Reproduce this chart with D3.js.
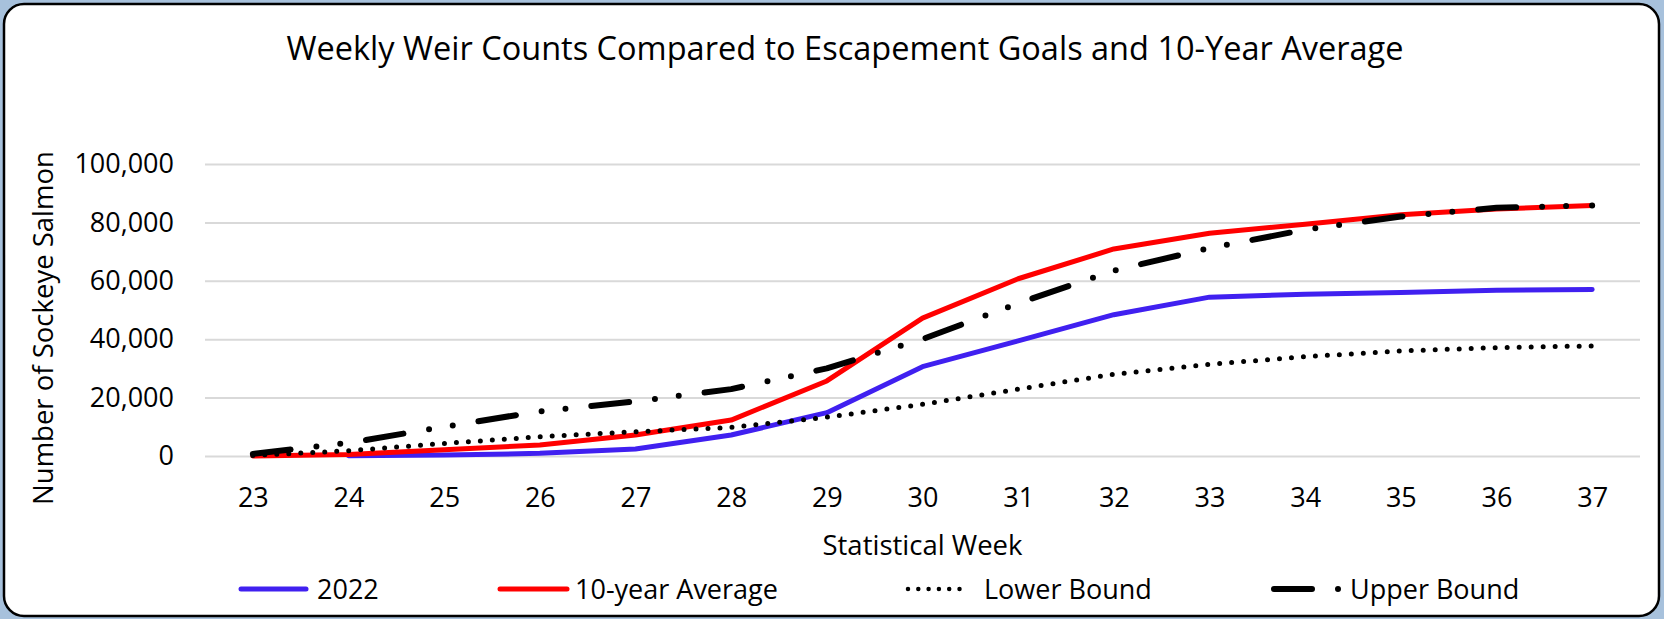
<!DOCTYPE html>
<html>
<head>
<meta charset="utf-8">
<script src="https://cdn.jsdelivr.net/npm/d3@7"></script>
<style>
  html, body { margin: 0; padding: 0; background: #a7c1dc; }
  svg { display: block; font-family: "Open Sans", sans-serif; }
</style>
</head>
<body>
<svg id="chart"></svg>
<script>
// chart data
const weeks = [23, 24, 25, 26, 27, 28, 29, 30, 31, 32, 33, 34, 35, 36, 37];
const run2022 = [null, 100, 300, 900, 2400, 7200, 14850, 30600, 39400, 48400, 54400, 55400, 56000, 56800, 57000];
const tenYearAvg = [0, 500, 2100, 3800, 7200, 12300, 25700, 47200, 60700, 70900, 76300, 79400, 82600, 84600, 85800];
const lowerBound = [200, 1800, 4300, 6600, 8300, 9800, 13300, 17700, 22900, 28000, 31400, 34000, 36000, 37100, 37700];
const upperBound = [700, 4500, 10000, 15300, 18700, 22900, 30000, 40000, 52300, 63500, 71200, 77500, 82000, 85000, 85800];
const yTicks = [0, 20000, 40000, 60000, 80000, 100000];
const seriesNames = ["2022", "10-year Average", "Lower Bound", "Upper Bound"];

const titleText = "Weekly Weir Counts Compared to Escapement Goals and 10-Year Average";
const xTitle = "Statistical Week";
const yTitle = "Number of Sockeye Salmon";

const W = 1664, H = 619;
const plot = { left: 205, right: 1640, top: 164, bottom: 456 };

const svg = d3.select("#chart").attr("width", W).attr("height", H);

// frame
svg.append("rect")
  .attr("x", 4).attr("y", 4)
  .attr("width", 1655).attr("height", 612)
  .attr("rx", 20).attr("ry", 20)
  .attr("fill", "#fff")
  .attr("stroke", "#000")
  .attr("stroke-width", 2.5);

let x = d3.scalePoint().domain(weeks).range([plot.left, plot.right]).padding(0.5);
let y = d3.scaleLinear().domain([0, 100000]).range([plot.bottom, plot.top]);

// y axis + gridlines
let yAxis = svg.append("g")
  .attr("transform", "translate(" + plot.left + ",0)")
  .call(d3.axisLeft(y).tickValues(yTicks).tickSize(-(plot.right - plot.left)).tickPadding(31)
    .tickFormat(d3.format(",")));
yAxis.select(".domain").remove();
yAxis.selectAll("line").attr("stroke", "#d9d9d9").attr("stroke-width", 2);
yAxis.selectAll("text").attr("font-size", 27).attr("fill", "#000").attr("font-family", "Open Sans");

// x axis
let xAxis = svg.append("g")
  .attr("transform", "translate(0," + plot.bottom + ")")
  .call(d3.axisBottom(x).tickSize(0).tickPadding(32));
xAxis.select(".domain").remove();
xAxis.selectAll("text").attr("font-size", 27).attr("fill", "#000").attr("font-family", "Open Sans");

// titles
svg.append("text")
  .attr("x", 845).attr("y", 60)
  .attr("text-anchor", "middle")
  .attr("font-size", 32.5)
  .text(titleText);

svg.append("text")
  .attr("x", (plot.left + plot.right) / 2).attr("y", 555)
  .attr("text-anchor", "middle")
  .attr("font-size", 27.5)
  .text(xTitle);

svg.append("text")
  .attr("transform", "translate(53,328) rotate(-90)")
  .attr("text-anchor", "middle")
  .attr("font-size", 27.5)
  .text(yTitle);

// series
const series = [
  { name: seriesNames[0], values: run2022, color: "#4020f0", width: 5, dash: null },
  { name: seriesNames[1], values: tenYearAvg, color: "#ff0000", width: 5, dash: null },
  { name: seriesNames[2], values: lowerBound, color: "#000", width: 5, dash: "0 12" },
  { name: seriesNames[3], values: upperBound, color: "#000", width: 6, dash: "38 26 0 24 0 26" }
];

let line = d3.line()
  .defined(d => d.v != null)
  .x(d => x(d.w))
  .y(d => y(d.v));

series.forEach(s => {
  svg.append("path")
    .datum(weeks.map((w, i) => ({ w: w, v: s.values[i] })))
    .attr("fill", "none")
    .attr("stroke", s.color)
    .attr("stroke-width", s.width)
    .attr("stroke-linejoin", "round")
    .attr("stroke-linecap", "round")
    .attr("stroke-dasharray", s.dash)
    .attr("d", line);
});

// legend
const legendX = [241, 500, 908, 1274];
const legendLen = [65, 67, 60, 67];
const legendTextX = [317, 575, 984, 1350];
const legendDash = [null, null, "0 10.3", "38 26 0 24"];
let legend = svg.append("g");
series.forEach((s, i) => {
  legend.append("line")
    .attr("x1", legendX[i]).attr("x2", legendX[i] + legendLen[i])
    .attr("y1", 589).attr("y2", 589)
    .attr("stroke", s.color)
    .attr("stroke-width", i == 2 ? 4.5 : s.width)
    .attr("stroke-linecap", "round")
    .attr("stroke-dasharray", legendDash[i]);
  legend.append("text")
    .attr("x", legendTextX[i]).attr("y", 599)
    .attr("font-size", 27)
    .text(s.name);
});
</script>
</body>
</html>
